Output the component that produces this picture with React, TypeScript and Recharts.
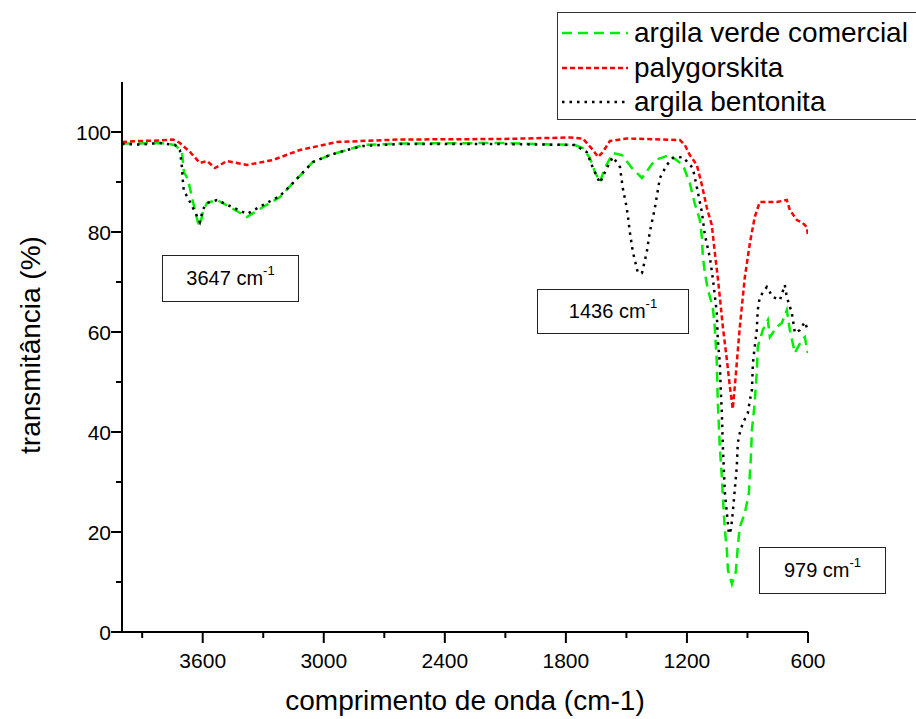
import React from 'react';
import { LineChart, Line, XAxis, YAxis, Legend } from 'recharts';

// FTIR spectra (wavenumber in cm-1, transmittance in %)
const verdeWn = [4000, 3911, 3812, 3737, 3703, 3693, 3673, 3648, 3624, 3614, 3599, 3579, 3529, 3465, 3381, 3301, 3217, 3153, 3054, 2969, 2885, 2806, 2623, 2127, 1756, 1716, 1681, 1656, 1631, 1607, 1567, 1522, 1473, 1423, 1359, 1285, 1220, 1186, 1162, 1136, 1126, 1121, 1111, 1096, 1072, 1062, 1052, 1047, 1037, 1027, 1022, 1012, 1002, 997, 977, 958, 948, 938, 913, 893, 888, 883, 878, 864, 859, 854, 849, 824, 799, 789, 754, 730, 705, 690, 665, 631, 616, 601];
const verdeT = [97.7, 97.7, 97.8, 97.4, 96, 92, 90.5, 86, 82, 81.2, 84, 85.8, 86.4, 85, 83, 85, 87, 89.8, 94, 95.4, 96.4, 97.4, 97.7, 97.8, 97.4, 96.8, 94.8, 92, 90, 92.8, 95.8, 95.4, 92.8, 90.8, 94.4, 95.4, 93.4, 89.8, 85.8, 82.4, 79, 75, 71.8, 68.4, 65, 61, 54, 46, 37, 31, 27, 20.4, 16.4, 12.4, 9.6, 12, 17, 21, 23.8, 27.8, 31.8, 35, 40.4, 45.8, 49, 51.8, 57, 60.4, 62.4, 59, 61, 61.8, 64.4, 60.4, 55.8, 58.4, 59, 55.8];

const paliWn = [4000, 3911, 3812, 3747, 3713, 3663, 3614, 3579, 3539, 3480, 3381, 3252, 3118, 2935, 2623, 2127, 1780, 1716, 1666, 1641, 1617, 1582, 1498, 1235, 1210, 1186, 1151, 1126, 1101, 1077, 1062, 1047, 1037, 1022, 1002, 987, 973, 963, 938, 913, 888, 864, 839, 789, 754, 705, 690, 655, 626, 606, 601];
const paliT = [98, 98.2, 98.3, 98.5, 97.8, 96, 93.8, 94.2, 92.8, 94.2, 93.4, 94.4, 96.4, 98, 98.5, 98.6, 98.9, 98.7, 96.4, 95, 96, 98.2, 98.7, 98.4, 97.4, 95.4, 93.4, 89.4, 84.8, 81.4, 76, 70.8, 67, 61, 54.4, 49, 44.6, 49, 61, 71, 77.8, 83, 86, 86, 86, 86.4, 84.4, 82.4, 81.8, 81, 79.6];

const bentWn = [4000, 3911, 3812, 3737, 3713, 3703, 3698, 3693, 3683, 3663, 3638, 3614, 3599, 3579, 3529, 3465, 3381, 3301, 3217, 3153, 3054, 2969, 2885, 2806, 2623, 2127, 1756, 1697, 1666, 1631, 1597, 1567, 1532, 1518, 1498, 1483, 1468, 1443, 1423, 1399, 1384, 1359, 1334, 1300, 1270, 1220, 1171, 1146, 1126, 1111, 1086, 1072, 1052, 1047, 1037, 1032, 1027, 1022, 1017, 1012, 1002, 992, 982, 973, 963, 953, 948, 938, 923, 898, 888, 878, 873, 864, 854, 849, 839, 804, 775, 739, 715, 705, 680, 665, 640, 616, 601];
const bentT = [97.6, 97.5, 97.8, 97.4, 96.4, 93, 90, 88, 87.5, 86, 84, 82, 84.5, 85.8, 86.4, 85.2, 83.6, 85.4, 87.2, 89.8, 94, 95.4, 96.4, 97.2, 97.6, 97.6, 97.4, 96, 92.8, 89.8, 92.8, 95, 93, 88.8, 84.8, 80, 76, 71.8, 71.8, 76, 80, 84.8, 90.8, 93.4, 94.8, 95, 92.8, 88, 84, 79.4, 74.8, 70.8, 63.8, 58.4, 53.8, 48, 43.8, 37, 32.4, 27.8, 23.8, 19.6, 20.5, 23.8, 28.4, 33, 37.8, 39.8, 41.8, 43.8, 46.4, 48.4, 53.8, 57, 60.4, 64.4, 67, 69, 67, 66.4, 69.4, 67, 63.8, 59.8, 60.4, 62, 60.4];

const xMajor = [3600, 3000, 2400, 1800, 1200, 600];
const xMinor = [3900, 3300, 2700, 2100, 1500, 900];
const yMajor = [0, 20, 40, 60, 80, 100];
const yMinor = [10, 30, 50, 70, 90];

const peakLabels = ['3647', '1436', '979'];

const toPoints = (wn: number[], t: number[]) => wn.map((w, i) => ({ wn: w, t: t[i] }));

const series = [
  { name: 'argila verde comercial', data: toPoints(verdeWn, verdeT), color: '#00ee00', dash: '10 6' },
  { name: 'palygorskita', data: toPoints(paliWn, paliT), color: '#ff0000', dash: '5 3' },
  { name: 'argila bentonita', data: toPoints(bentWn, bentT), color: '#000000', dash: '2.5 5' },
];

const FONT = '"Liberation Sans", Arial, sans-serif';

const XTick = (props: any) => {
  const { x, y, payload } = props;
  const major = xMajor.includes(payload.value);
  return (
    <g>
      <line x1={x} x2={x} y1={y} y2={y + (major ? 11 : 6)} stroke="#000" strokeWidth={2} />
      {major && (
        <text x={x} y={y + 36} textAnchor="middle" fontSize={21} fontFamily={FONT} fill="#000">
          {payload.value}
        </text>
      )}
    </g>
  );
};

const YTick = (props: any) => {
  const { x, y, payload } = props;
  const major = yMajor.includes(payload.value);
  return (
    <g>
      <line x1={x} x2={x - (major ? 11 : 6)} y1={y} y2={y} stroke="#000" strokeWidth={2} />
      {major && (
        <text x={x - 11} y={y} dy="0.36em" textAnchor="end" fontSize={21} fontFamily={FONT} fill="#000">
          {payload.value}
        </text>
      )}
    </g>
  );
};

const LegendBox = () => (
  <div
    style={{
      width: 359,
      height: 108,
      boxSizing: 'border-box',
      border: '1.5px solid #333',
      borderRight: 'none',
      background: '#fff',
      paddingTop: 3,
      fontFamily: FONT,
      fontSize: 28,
      color: '#000',
    }}
  >
    {series.map((s) => (
      <div key={s.name} style={{ display: 'flex', alignItems: 'center', height: 34.5, whiteSpace: 'nowrap' }}>
        <svg width={76} height={10} style={{ flex: 'none' }}>
          <line x1={4} x2={70} y1={5} y2={5} stroke={s.color} strokeWidth={2.5} strokeDasharray={s.dash} />
        </svg>
        <span style={{ lineHeight: 1 }}>{s.name}</span>
      </div>
    ))}
  </div>
);

const boxStyle = (left: number, top: number, width: number, height: number): React.CSSProperties => ({
  position: 'absolute',
  left,
  top,
  width,
  height,
  boxSizing: 'border-box',
  border: '1.5px solid #222',
  background: '#fff',
  display: 'flex',
  alignItems: 'center',
  justifyContent: 'center',
  fontFamily: FONT,
  fontSize: 20,
  color: '#000',
});

const PeakBox = ({ label, style }: { label: string; style: React.CSSProperties }) => (
  <div style={style}>
    <span>
      {label} cm<sup style={{ fontSize: 13, verticalAlign: 'top', position: 'relative', top: -4 }}>-1</sup>
    </span>
  </div>
);

export default function App() {
  return (
    <div style={{ position: 'absolute', left: 0, top: 0, width: 916, height: 719, overflow: 'hidden', background: '#fff' }}>
      <LineChart width={916} height={719} margin={{ top: 82, right: 108, bottom: 27, left: 60 }}>
        <XAxis
          dataKey="wn"
          type="number"
          domain={[600, 4000]}
          reversed
          allowDataOverflow
          ticks={[...xMajor, ...xMinor].sort((a, b) => b - a)}
          interval={0}
          tickSize={0}
          tickMargin={0}
          tick={<XTick />}
          tickLine={false}
          axisLine={{ stroke: '#000', strokeWidth: 2 }}
          height={60}
          label={{
            content: () => (
              <text x={465} y={710} textAnchor="middle" fontSize={28} fontFamily={FONT} fill="#000">
                comprimento de onda (cm-1)
              </text>
            ),
          }}
        />
        <YAxis
          dataKey="t"
          type="number"
          domain={[0, 110]}
          allowDataOverflow
          ticks={[...yMajor, ...yMinor].sort((a, b) => a - b)}
          interval={0}
          tickSize={0}
          tickMargin={0}
          tick={<YTick />}
          tickLine={false}
          axisLine={{ stroke: '#000', strokeWidth: 2 }}
          width={62}
          label={{
            content: () => (
              <text
                x={30}
                y={345}
                transform="rotate(-90 30 345)"
                textAnchor="middle"
                dominantBaseline="central"
                fontSize={28}
                fontFamily={FONT}
                fill="#000"
              >
                transmitância (%)
              </text>
            ),
          }}
        />
        {series.map((s) => (
          <Line
            key={s.name}
            data={s.data}
            dataKey="t"
            name={s.name}
            type="linear"
            stroke={s.color}
            strokeWidth={2.5}
            strokeDasharray={s.dash}
            dot={false}
            activeDot={false}
            isAnimationActive={false}
          />
        ))}
        <Legend
          layout="vertical"
          align="center"
          verticalAlign="middle"
          content={<LegendBox />}
          wrapperStyle={{ position: 'absolute', left: 557, top: 12, width: 359 }}
        />
      </LineChart>
      <PeakBox label={peakLabels[0]} style={boxStyle(162, 255, 137, 47)} />
      <PeakBox label={peakLabels[1]} style={boxStyle(537, 289, 152, 45)} />
      <PeakBox label={peakLabels[2]} style={boxStyle(759, 547, 127, 47)} />
    </div>
  );
}
